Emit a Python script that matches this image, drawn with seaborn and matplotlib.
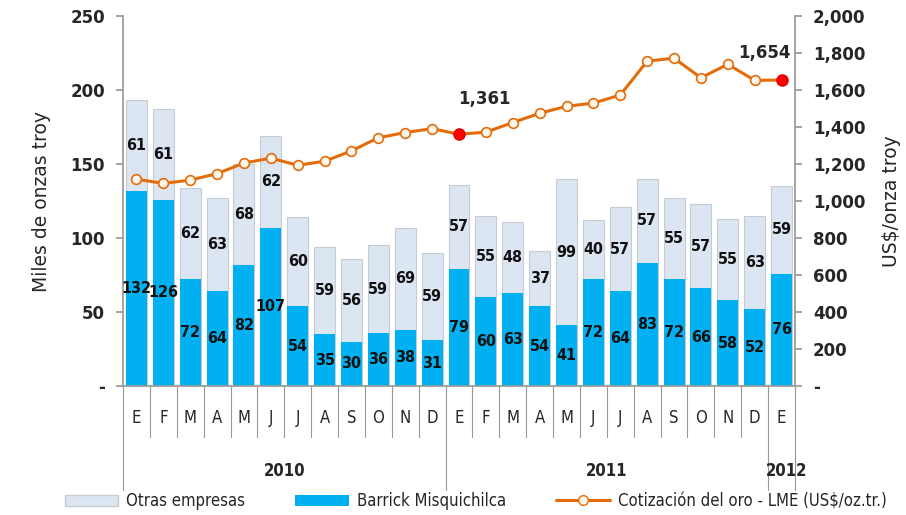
import matplotlib
matplotlib.use("Agg")
import matplotlib.pyplot as plt
import matplotlib.transforms as mtransforms
from matplotlib.patches import Patch
from matplotlib.lines import Line2D
from matplotlib.font_manager import FontProperties
import seaborn as sns
import pandas as pd
import numpy as np

months = ["E", "F", "M", "A", "M", "J", "J", "A", "S", "O", "N", "D",
          "E", "F", "M", "A", "M", "J", "J", "A", "S", "O", "N", "D", "E"]
years = ["2010", "2011", "2012"]
barrick = [132, 126, 72, 64, 82, 107, 54, 35, 30, 36, 38, 31,
           79, 60, 63, 54, 41, 72, 64, 83, 72, 66, 58, 52, 76]
otras = [61, 61, 62, 63, 68, 62, 60, 59, 56, 59, 69, 59,
         57, 55, 48, 37, 99, 40, 57, 57, 55, 57, 55, 63, 59]
gold = [1118, 1095, 1113, 1148, 1205, 1232, 1193, 1215, 1271, 1342, 1370, 1391,
        1361, 1372, 1424, 1474, 1512, 1529, 1573, 1756, 1772, 1666, 1739, 1652, 1654]

sns.set_theme(style="white")
plt.rcParams['font.family'] = ['DejaVu Sans']

n = len(months)
df = pd.DataFrame({
    "slot": [str(i) for i in range(n)],
    "pos": np.arange(n),
    "barrick": barrick,
    "otras": otras,
    "total": np.array(barrick) + np.array(otras),
    "gold": gold,
})

fig = plt.figure(figsize=(9.06, 5.15), dpi=100)
ax = fig.add_axes([123/906, 1-386/515, (795-123)/906, 370/515])

light = "#DCE6F2"
blue = "#00B0F0"
orange = "#E46C0A"
cond = dict(family="DejaVu Sans", stretch="condensed")

sns.barplot(data=df, x="slot", y="total", color=light, saturation=1, width=0.78,
            edgecolor="#C8CCD2", linewidth=0.8, ax=ax, order=df["slot"])
sns.barplot(data=df, x="slot", y="barrick", color=blue, saturation=1, width=0.78,
            edgecolor="none", linewidth=0, ax=ax, order=df["slot"])

ax.set_xlim(-0.5, n - 0.5)
ax.set_ylim(0, 250)
ax.set_yticks([0, 50, 100, 150, 200, 250])
ax.set_yticklabels(["-", "50", "100", "150", "200", "250"], fontsize=12, fontweight="bold")
ax.set_xticks([])
ax.set_xlabel("")
ax.set_ylabel("Miles de onzas troy", fontsize=13.5, labelpad=14)
ax.tick_params(axis="y", which="both", left=True, length=5, color="#999999", pad=8)
for s in ["top", "right"]:
    ax.spines[s].set_visible(False)
ax.spines["left"].set_color("#999999")
ax.spines["bottom"].set_color("#999999")

# labels in bars
for i in range(n):
    ax.text(i, barrick[i] / 2, str(barrick[i]), ha="center", va="center",
            fontsize=11.5, fontweight="bold", color="#111111", zorder=5, **cond)
    ax.text(i, barrick[i] + otras[i] / 2, str(otras[i]), ha="center", va="center",
            fontsize=11.5, fontweight="bold", color="#111111", zorder=5, **cond)

# gold price on twin axis
ax2 = ax.twinx()
sns.lineplot(data=df, x="pos", y="gold", color=orange, linewidth=2.2, ax=ax2,
             marker="o", markersize=7, markerfacecolor="#FFF6EC",
             markeredgecolor=orange, markeredgewidth=1.2)
hi = [12, 24]
ax2.plot(df["pos"].iloc[hi], df["gold"].iloc[hi], "o", color="#FF0000",
         markersize=8, markeredgecolor="#E00000", zorder=6)
ax2.annotate("1,361", (12, gold[12]), xytext=(18, 22), textcoords="offset points",
             ha="center", fontsize=12, fontweight="bold")
ax2.annotate("1,654", (24, gold[24]), xytext=(-12, 16), textcoords="offset points",
             ha="center", fontsize=12, fontweight="bold")
ax2.set_ylim(0, 2000)
ax2.set_xlim(-0.5, n - 0.5)
ax2.set_yticks(np.arange(0, 2001, 200))
ax2.set_yticklabels(["-"] + [f"{v:,}" for v in range(200, 2001, 200)],
                    fontsize=12, fontweight="bold")
ax2.set_xlabel("")
ax2.set_ylabel("US$/onza troy", fontsize=13.5, labelpad=12)
ax2.tick_params(axis="y", which="both", right=True, length=5, color="#999999", pad=8)
for s in ["top", "left", "bottom"]:
    ax2.spines[s].set_visible(False)
ax2.spines["right"].set_color("#999999")

# category axis: months, years, separators
trans = mtransforms.blended_transform_factory(ax.transData, ax.transAxes)
for i, m in enumerate(months):
    ax.text(i, -0.087, m, transform=trans, ha="center", va="center", fontsize=12, **cond)
year_bounds = [-0.5, 11.5, 23.5, 24.5]
for b in np.arange(-0.5, n, 1.0):
    low = -0.281 if b in year_bounds else -0.138
    ax.add_line(Line2D([b, b], [0, low], transform=trans, color="#999999",
                       linewidth=0.8, clip_on=False))
year_centers = [5.5, 17.5, 24.2]
for yc, yl in zip(year_centers, years):
    ax.text(yc, -0.23, yl, transform=trans, ha="center", va="center", fontsize=12,
            fontweight="bold", **cond)

handles = [Patch(facecolor=light, edgecolor="#C8CCD2"),
           Patch(facecolor=blue, edgecolor="none"),
           Line2D([0], [0], color=orange, lw=2.2, marker="o", markersize=7,
                  markerfacecolor="#FFF6EC", markeredgecolor=orange)]
fig.legend(handles, ["Otras empresas", "Barrick Misquichilca",
                     "Cotización del oro - LME (US$/oz.tr.)"],
           loc="lower left", bbox_to_anchor=(0.055, -0.02), ncol=3, frameon=False,
           handlelength=3.2, columnspacing=3.0, handletextpad=0.5,
           prop=FontProperties(family="DejaVu Sans", stretch="condensed", size=12))

fig.savefig("out.png", dpi=100)
